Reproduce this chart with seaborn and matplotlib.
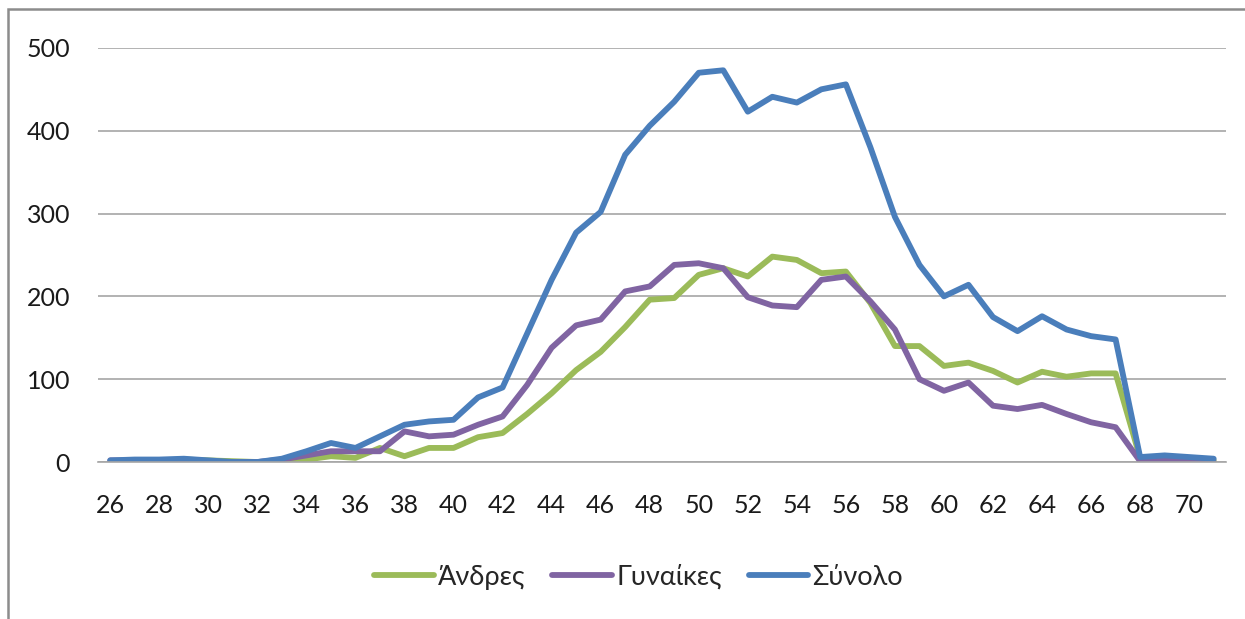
import pandas as pd
import matplotlib.pyplot as plt
import seaborn as sns

# Ages 26..71
ages = list(range(26, 72))

andres = [0, 1, 2, 3, 2, 1, 0, 0, 3, 7, 5, 17, 7, 17, 17, 30, 35, 58, 83, 111,
          133, 163, 196, 198, 226, 234, 224, 248, 244, 228, 230, 192, 140, 140, 116, 120,
          110, 96, 109, 103, 107, 107, 5, 4, 3, 2]
gynaikes = [2, 2, 2, 1, 0, 0, 0, 3, 8, 13, 13, 13, 37, 31, 33, 45, 55, 93, 138, 165,
            172, 206, 212, 238, 240, 234, 199, 189, 187, 220, 224, 194, 160, 100, 86, 96,
            68, 64, 69, 58, 48, 42, 1, 2, 1, 0]
synolo = [2, 3, 3, 4, 2, 0, 0, 4, 13, 23, 17, 31, 45, 49, 51, 78, 90, 155, 220, 277,
          302, 371, 406, 435, 470, 473, 423, 441, 434, 450, 456, 380, 296, 238, 200, 214,
          175, 158, 176, 160, 152, 148, 6, 8, 6, 4]

series_names = ['Άνδρες', 'Γυναίκες', 'Σύνολο']
colors = ['#9BBB59', '#8064A2', '#4A7EBB']

df = pd.DataFrame({
    'age': ages * 3,
    'value': andres + gynaikes + synolo,
    'series': [series_names[0]] * len(ages) + [series_names[1]] * len(ages) + [series_names[2]] * len(ages),
})

sns.set_style('white')
plt.rcParams['font.family'] = ['Lato', 'DejaVu Sans']

fig = plt.figure(figsize=(12.45, 6.19), dpi=100)
ax = fig.add_axes([0.0787, 0.2536, 0.906, 0.669])

sns.lineplot(data=df, x='age', y='value', hue='series', palette=dict(zip(series_names, colors)),
             linewidth=4.2, ax=ax, legend=False)

ax.set_xlim(25.5, 71.5)
ax.set_ylim(0, 500)
ax.set_xticks(range(26, 71, 2))
ax.set_yticks(range(0, 501, 100))
ax.yaxis.grid(True, color='#a6a6a6', linewidth=1.2)
ax.set_axisbelow(True)
for s in ['left', 'right', 'top']:
    ax.spines[s].set_visible(False)
ax.spines['bottom'].set_color('#a6a6a6')
ax.spines['bottom'].set_linewidth(1.2)
ax.tick_params(axis='both', length=0, labelsize=18, colors='#1a1a1a')
ax.tick_params(axis='y', pad=20)
ax.tick_params(axis='x', pad=23)
ax.set_xlabel('')
ax.set_ylabel('')

handles = [plt.Line2D([], [], color=c, linewidth=4.2) for c in colors]
fig.legend(handles, series_names, loc='center', bbox_to_anchor=(0.513, 0.068), ncol=3,
           frameon=False, fontsize=19.5, handlelength=2.2, handletextpad=0.15, columnspacing=1.0)

# chart area border (right and bottom edges fall outside the picture)
fig.patches.append(plt.Rectangle((0.0064, -0.05), 1.05, 1.0355, transform=fig.transFigure,
                                 fill=False, edgecolor='#8c8c8c', linewidth=1.8))

fig.savefig('out.png', dpi=100)
